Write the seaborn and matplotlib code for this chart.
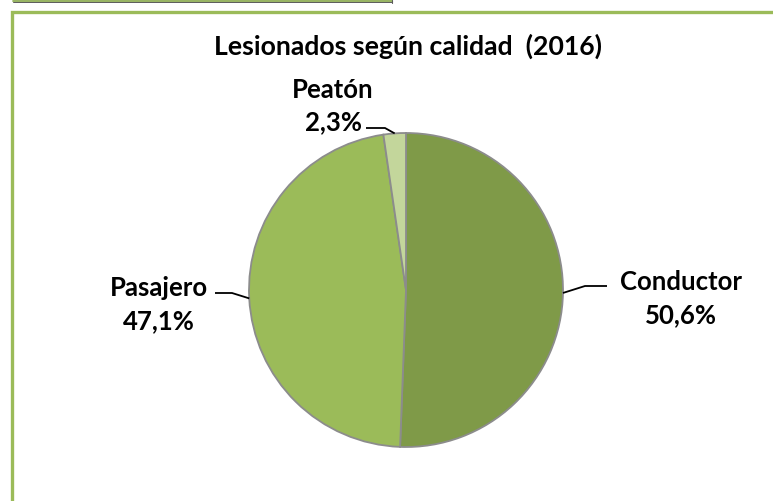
import numpy as np
import matplotlib
matplotlib.use("Agg")
import matplotlib.pyplot as plt
import matplotlib.patches as mpatches
import seaborn as sns

# Datos del gráfico
categorias = ["Conductor", "Pasajero", "Peatón"]
porcentajes = [50.6, 47.1, 2.3]
etiquetas = ["50,6%", "47,1%", "2,3%"]
titulo = "Lesionados según calidad  (2016)"

sns.set_theme(style="white")
plt.rcParams["font.family"] = ["Lato", "DejaVu Sans"]

colores = ["#7f9a48", "#9bbb59", "#c3d69b"]

W, H = 773, 501
fig = plt.figure(figsize=(W / 100, H / 100), dpi=100)
ax = fig.add_axes([0, 0, 1, 1])

centro = (406, H - 290)
radio = 157
wedges, _ = ax.pie(porcentajes, colors=colores, startangle=90, counterclock=False,
                   center=centro, radius=radio,
                   wedgeprops=dict(edgecolor="#8c8c8c", linewidth=1.3))
ax.set_xlim(0, W)
ax.set_ylim(0, H)
ax.set_aspect("equal")
ax.axis("off")

# marco verde
ax.add_patch(mpatches.Rectangle((11.5, -20), 900, H - 11.5 + 20, fill=False,
                                edgecolor="#9bbb59", linewidth=2.4, clip_on=False))
# borde inferior del cuadro anterior (solo asoma arriba a la izquierda)
ax.plot([13, 392], [H - 0.8, H - 0.8], color="#8fae55", linewidth=1.3)
ax.plot([13, 392], [H - 2.2, H - 2.2], color="#5a5a5a", linewidth=0.7)
ax.plot([391.5, 391.5], [H - 2.5, H], color="#5a5a5a", linewidth=0.8)

ax.text(408, H - 46, titulo, ha="center", va="center", fontsize=19.2,
        fontweight="bold", color="black")

# posiciones de etiquetas (codo, fin de línea, texto)
disposicion = {
    "Conductor": dict(codo=(585, 286), fin=(607, 286), texto=(681, 298.5)),
    "Pasajero": dict(codo=(232, 293), fin=(215, 293), texto=(159, 304.5)),
    "Peatón": dict(codo=(385, 128), fin=(366, 128), texto=(333, 106)),
}

for w, cat, et in zip(wedges, categorias, etiquetas):
    ang = np.deg2rad((w.theta1 + w.theta2) / 2)
    px = centro[0] + radio * np.cos(ang)
    py = centro[1] + radio * np.sin(ang)
    d = disposicion[cat]
    xs = [px, d["codo"][0], d["fin"][0]]
    ys = [py, H - d["codo"][1], H - d["fin"][1]]
    ax.plot(xs, ys, color="black", linewidth=1.3, solid_capstyle="butt")
    ax.text(d["texto"][0], H - d["texto"][1], f"{cat}\n{et}", ha="center",
            va="center", fontsize=18.5, fontweight="bold", color="black",
            linespacing=1.45)

fig.savefig("out.png", dpi=100)
